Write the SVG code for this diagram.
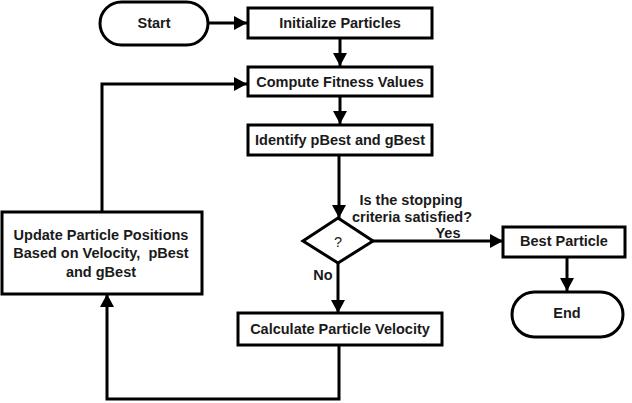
<svg xmlns="http://www.w3.org/2000/svg" width="632" height="403" viewBox="0 0 632 403">
<style>
.box{fill:#fff;stroke:#000;stroke-width:3}
.t{font-family:"Liberation Sans",Arial,sans-serif;font-weight:bold;font-size:14.5px;fill:#1a1a1a;text-anchor:middle}
.c{fill:none;stroke:#000;stroke-width:3}
</style>
<defs>
<marker id="ah" markerUnits="userSpaceOnUse" markerWidth="14" markerHeight="14" refX="13" refY="7" orient="auto">
<path d="M0,0 L13,7 L0,14 Z" fill="#000"/>
</marker>
</defs>
<rect width="632" height="403" fill="#fff"/>
<g id="connectors">
<line class="c" x1="208" y1="23" x2="247" y2="23" marker-end="url(#ah)"/>
<line class="c" x1="340" y1="38" x2="340" y2="66" marker-end="url(#ah)"/>
<line class="c" x1="340" y1="96" x2="340" y2="124" marker-end="url(#ah)"/>
<line class="c" x1="339" y1="155" x2="339" y2="218" marker-end="url(#ah)"/>
<line class="c" x1="373" y1="241" x2="503" y2="241" marker-end="url(#ah)"/>
<line class="c" x1="338" y1="263" x2="338" y2="313" marker-end="url(#ah)"/>
<line class="c" x1="567" y1="257" x2="567" y2="291" marker-end="url(#ah)"/>
<polyline class="c" points="339,345 339,399 107,399 107,294" marker-end="url(#ah)"/>
<polyline class="c" points="102,212 102,84 247,84" marker-end="url(#ah)"/>
</g>
<g id="start">
<rect class="box" x="100" y="2" width="108" height="43" rx="21.5"/>
<text class="t" x="154" y="28">Start</text>
</g>
<g id="init">
<rect class="box" x="248" y="8" width="184" height="30"/>
<text class="t" x="340" y="28">Initialize Particles</text>
</g>
<g id="fitness">
<rect class="box" x="248" y="67" width="184" height="29"/>
<text class="t" x="340" y="87">Compute Fitness Values</text>
</g>
<g id="identify">
<rect class="box" x="248" y="125" width="184" height="30"/>
<text class="t" x="340" y="145">Identify pBest and gBest</text>
</g>
<g id="decision">
<polygon class="box" points="338,218 373,241 338,263 303,241"/>
<text class="t" x="338" y="247" style="font-weight:normal">?</text>
<text class="t" x="411" y="205">Is the stopping</text>
<text class="t" x="412" y="222">criteria satisfied?</text>
<text class="t" x="448" y="238">Yes</text>
<text class="t" x="323" y="280">No</text>
</g>
<g id="best">
<rect class="box" x="503" y="227" width="122" height="30"/>
<text class="t" x="564" y="246">Best Particle</text>
</g>
<g id="end">
<rect class="box" x="512" y="292" width="111" height="45" rx="22.5"/>
<text class="t" x="567" y="318">End</text>
</g>
<g id="calc">
<rect class="box" x="238" y="313" width="204" height="32"/>
<text class="t" x="340" y="334">Calculate Particle Velocity</text>
</g>
<g id="update">
<rect class="box" x="2" y="212" width="200" height="82"/>
<text class="t" x="101" y="240">Update Particle Positions</text>
<text class="t" x="101" y="258" style="white-space:pre">Based on Velocity,  pBest</text>
<text class="t" x="101" y="277">and gBest</text>
</g>
</svg>
